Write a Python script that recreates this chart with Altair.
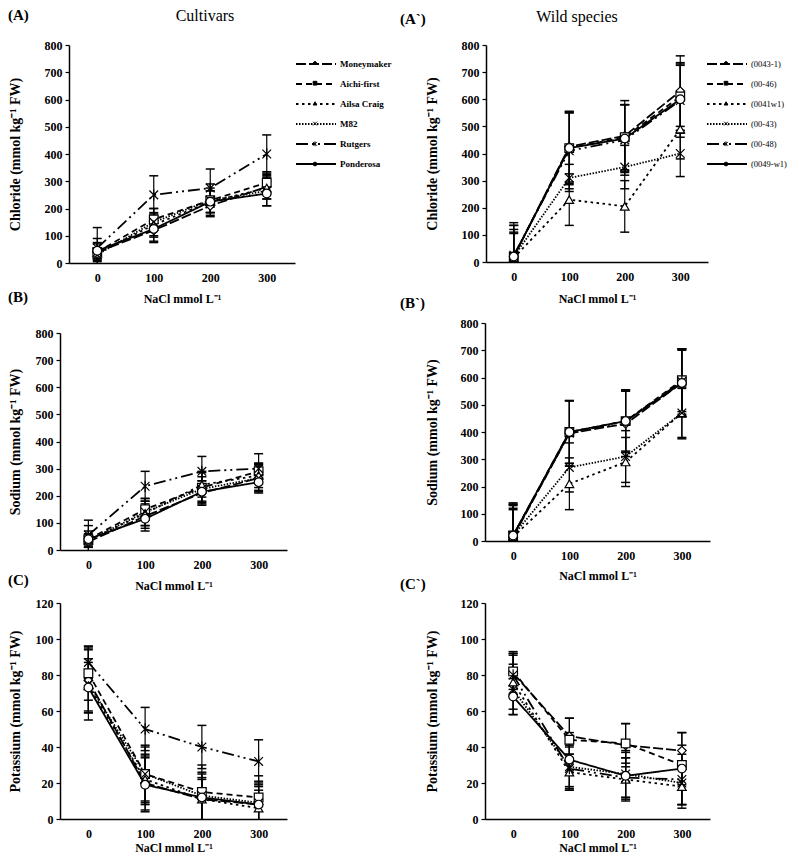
import altair as alt
import pandas as pd

# ---------------- data ----------------
nacl = [0, 100, 200, 300]
cultivars = ["Moneymaker", "Aichi-first", "Ailsa Craig", "M82", "Rutgers", "Ponderosa"]
wild = ["(0043-1)", "(00-46)", "(0041w1)", "(00-43)", "(00-48)", "(0049-w1)"]

cl_cult = {
    "Moneymaker": [40, 120, 210, 280],
    "Aichi-first": [40, 160, 230, 295],
    "Ailsa Craig": [35, 140, 225, 275],
    "M82": [30, 150, 230, 265],
    "Rutgers": [55, 250, 275, 400],
    "Ponderosa": [45, 125, 225, 255],
}
cl_cult_err = {
    "Moneymaker": [30, 45, 35, 45],
    "Aichi-first": [50, 40, 60, 40],
    "Ailsa Craig": [20, 45, 40, 40],
    "M82": [25, 50, 45, 55],
    "Rutgers": [75, 70, 70, 70],
    "Ponderosa": [30, 45, 40, 45],
}
na_cult = {
    "Moneymaker": [30, 125, 210, 265],
    "Aichi-first": [40, 150, 230, 290],
    "Ailsa Craig": [35, 135, 240, 275],
    "M82": [35, 140, 225, 265],
    "Rutgers": [55, 235, 290, 300],
    "Ponderosa": [40, 115, 215, 250],
}
na_cult_err = {
    "Moneymaker": [20, 45, 45, 45],
    "Aichi-first": [50, 40, 60, 30],
    "Ailsa Craig": [25, 45, 45, 45],
    "M82": [20, 50, 45, 50],
    "Rutgers": [55, 55, 55, 55],
    "Ponderosa": [30, 45, 40, 40],
}
k_cult = {
    "Moneymaker": [77, 20, 11, 8],
    "Aichi-first": [81, 25, 15, 12],
    "Ailsa Craig": [74, 22, 11, 6],
    "M82": [75, 25, 13, 9],
    "Rutgers": [87, 50, 40, 32],
    "Ponderosa": [73, 19, 12, 8],
}
k_cult_err = {
    "Moneymaker": [17, 15, 11, 10],
    "Aichi-first": [15, 16, 15, 12],
    "Ailsa Craig": [15, 14, 12, 10],
    "M82": [20, 15, 13, 12],
    "Rutgers": [9, 12, 12, 12],
    "Ponderosa": [14, 15, 13, 11],
}
cl_wild = {
    "(0043-1)": [20, 425, 465, 630],
    "(00-46)": [20, 420, 460, 610],
    "(0041w1)": [15, 230, 205, 490],
    "(00-43)": [20, 310, 350, 400],
    "(00-48)": [25, 410, 450, 595],
    "(0049-w1)": [20, 420, 455, 600],
}
cl_wild_err = {
    "(0043-1)": [125, 130, 130, 130],
    "(00-46)": [115, 130, 120, 125],
    "(0041w1)": [90, 95, 95, 110],
    "(00-43)": [90, 50, 80, 85],
    "(00-48)": [110, 140, 130, 135],
    "(0049-w1)": [100, 135, 125, 125],
}
na_wild = {
    "(0043-1)": [15, 395, 430, 580],
    "(00-46)": [20, 400, 440, 590],
    "(0041w1)": [15, 210, 290, 470],
    "(00-43)": [20, 270, 310, 470],
    "(00-48)": [20, 395, 440, 585],
    "(0049-w1)": [20, 400, 440, 580],
}
na_wild_err = {
    "(0043-1)": [120, 120, 120, 125],
    "(00-46)": [115, 115, 115, 115],
    "(0041w1)": [100, 95, 90, 90],
    "(00-43)": [100, 90, 95, 95],
    "(00-48)": [120, 120, 115, 120],
    "(0049-w1)": [110, 115, 110, 120],
}
k_wild = {
    "(0043-1)": [81, 46, 41, 38],
    "(00-46)": [82, 44, 42, 30],
    "(0041w1)": [76, 26, 22, 18],
    "(00-43)": [72, 29, 25, 20],
    "(00-48)": [80, 28, 23, 22],
    "(0049-w1)": [68, 33, 24, 28],
}
k_wild_err = {
    "(0043-1)": [12, 10, 12, 10],
    "(00-46)": [10, 12, 11, 11],
    "(0041w1)": [15, 10, 12, 12],
    "(00-43)": [14, 12, 13, 12],
    "(00-48)": [12, 12, 11, 14],
    "(0049-w1)": [10, 15, 13, 20],
}

column_titles = ["Cultivars", "Wild species"]
panel_labels = ["(A)", "(A`)", "(B)", "(B`)", "(C)", "(C`)"]
x_title = "NaCl mmol L\u207b\u00b9"
y_titles = ["Chloride (mmol kg\u207b\u00b9 FW)", "Sodium (mmol kg\u207b\u00b9 FW)", "Potassium (mmol kg\u207b\u00b9 FW)"]

# ---------------- styles ----------------
W, H = 780, 845
FONT = "Liberation Serif"
X_PATH = "M-1,-1L1,1M1,-1L-1,1"
STAR_PATH = "M-1,-1L1,1M1,-1L-1,1M0,-1.3L0,1.3"
dashes = [[10, 3], [6, 4], [2.5, 3.5], [1.5, 1.5], [12, 4, 2, 4, 2, 4], [1, 0]]
shapes = ["diamond", "square", "triangle-up", X_PATH, STAR_PATH, "circle"]


def make_panel(names, vals, errs, xr, yr, ymax, ystep, ytitle, ytx, xty,
               legend_xy=None, legend_bold=True, legend_fs=9):
    mnames = ["m" + s for s in names]
    rows = []
    for s in names:
        for i, x in enumerate(nacl):
            rows.append({"nacl": x, "value": vals[s][i], "err": errs[s][i],
                         "series": s, "mk": "m" + s})
    df = pd.DataFrame(rows)

    xscale = alt.Scale(domain=[-50, 350], range=xr, nice=False, zero=False)
    yscale = alt.Scale(domain=[0, ymax], range=yr, nice=False, zero=True)
    xaxis = alt.Axis(orient="bottom", offset=-(H - yr[0]), values=nacl, title=x_title,
                     titleY=xty, titleBaseline="middle", titleFontSize=12,
                     grid=False, ticks=False, labelPadding=9, labelFontSize=12,
                     labelFontWeight="bold", domainWidth=1.5, domainColor="black",
                     labelColor="black", titleColor="black", titleFontWeight="bold",
                     labelFont=FONT, titleFont=FONT)
    yaxis = alt.Axis(orient="left", offset=-xr[0], values=list(range(0, ymax + 1, ystep)),
                     title=ytitle, titleX=ytx, titleBaseline="middle", titleFontSize=14,
                     grid=False, ticks=True, tickSize=4, tickWidth=1.2, tickColor="black",
                     labelPadding=3, labelFontSize=12, labelFontWeight="bold",
                     domainWidth=1.5, domainColor="black", labelColor="black",
                     titleColor="black", titleFontWeight="bold",
                     labelFont=FONT, titleFont=FONT)
    X = alt.X("nacl:Q", scale=xscale, axis=xaxis)

    def Y(f):
        return alt.Y(f + ":Q", scale=yscale, axis=yaxis)

    if legend_xy is not None:
        leg_dash = alt.Legend(orient="none", legendX=legend_xy[0], legendY=legend_xy[1],
                              title=None, symbolType="M-4,0H4", symbolSize=100,
                              symbolStrokeWidth=1.8, symbolStrokeColor="black",
                              symbolOffset=15, labelOffset=18, labelFont=FONT,
                              labelFontSize=legend_fs, labelColor="black",
                              labelFontWeight="bold" if legend_bold else "normal",
                              rowPadding=9, padding=0)
    else:
        leg_dash = None

    shape_scale = alt.Scale(domain=mnames, range=shapes)
    base = alt.Chart(df).transform_calculate(
        lo="max(datum.value - datum.err, 0)", hi="datum.value + datum.err"
    )
    rule = base.mark_rule(color="black", strokeWidth=1.2).encode(x=X, y=Y("lo"), y2="hi:Q")
    cap_hi = base.mark_tick(orient="horizontal", size=9, thickness=1.5, color="black",
                            opacity=1).encode(x=X, y=Y("hi"))
    cap_lo = base.transform_filter("datum.value - datum.err > 0").mark_tick(
        orient="horizontal", size=9, thickness=1.5, color="black", opacity=1
    ).encode(x=X, y=Y("lo"))
    lines = alt.Chart(df).mark_line(color="black", strokeWidth=1.8).encode(
        x=X, y=Y("value"),
        strokeDash=alt.StrokeDash("series:N", scale=alt.Scale(domain=names, range=dashes),
                                  legend=leg_dash),
    )
    points = alt.Chart(df).mark_point(filled=False, fill="white", stroke="black",
                                      strokeWidth=1.2, size=75, opacity=1).encode(
        x=X, y=Y("value"),
        shape=alt.Shape("mk:N", scale=shape_scale, legend=None),
    )
    panel = alt.layer(rule, cap_hi, cap_lo, lines, points)

    if legend_xy is None:
        return [panel]

    # small markers drawn in the middle of each legend line (rows on a point scale)
    row0 = legend_xy[1] + 5
    mk_df = pd.DataFrame({"mk": mnames})
    markers = alt.Chart(mk_df).mark_point(
        filled=True, color="black", stroke="black", strokeWidth=1, size=14, opacity=1
    ).encode(
        x=alt.value(legend_xy[0] + 20),
        y=alt.Y("mk:N", scale=alt.Scale(domain=mnames, range=[row0, row0 + 101],
                                          type="point", padding=0), axis=None),
        shape=alt.Shape("mk:N", scale=shape_scale, legend=None),
    )
    return [panel, markers]


layers = []
layers += make_panel(cultivars, cl_cult, cl_cult_err, [61, 287], [255, 37], 800, 100,
                     y_titles[0], -54, 35, legend_xy=(287, 50), legend_bold=True)
layers += make_panel(wild, cl_wild, cl_wild_err, [478, 700], [254, 37], 800, 100,
                     y_titles[0], -54, 36, legend_xy=(698, 50), legend_bold=False,
                     legend_fs=8.5)
layers += make_panel(cultivars, na_cult, na_cult_err, [52, 279], [542, 325], 800, 100,
                     y_titles[1], -45, 35)
layers += make_panel(wild, na_wild, na_wild_err, [477, 702], [533, 315], 800, 100,
                     y_titles[1], -53, 34)
layers += make_panel(cultivars, k_cult, k_cult_err, [52, 279], [811, 595], 120, 20,
                     y_titles[2], -45, 28)
layers += make_panel(wild, k_wild, k_wild_err, [477, 702], [811, 595], 120, 20,
                     y_titles[2], -53, 28)


def label(text, x, y, size, weight, align="left"):
    return alt.Chart(pd.DataFrame({"t": [text]})).mark_text(
        font=FONT, fontSize=size, fontWeight=weight, align=align, baseline="middle",
        color="black"
    ).encode(text="t:N", x=alt.value(x), y=alt.value(y))


texts = [
    label(column_titles[0], 197, 8, 16, "normal", "center"),
    label(column_titles[1], 569, 9, 16, "normal", "center"),
    label(panel_labels[0], 0, 7, 15, "bold"),
    label(panel_labels[1], 392, 11, 15, "bold"),
    label(panel_labels[2], 0, 289, 15, "bold"),
    label(panel_labels[3], 392, 295, 15, "bold"),
    label(panel_labels[4], 0, 572, 15, "bold"),
    label(panel_labels[5], 392, 576, 15, "bold"),
]

chart = alt.layer(*layers, *texts).resolve_scale(
    x="independent", y="independent", strokeDash="independent", shape="independent"
).resolve_axis(x="independent", y="independent").resolve_legend(
    strokeDash="independent", shape="independent"
).properties(
    width=W, height=H, autosize=alt.AutoSizeParams(type="none"), padding=0
).configure_view(stroke=None)

chart.save("out.html", embed_options={"renderer": "svg", "actions": False})
